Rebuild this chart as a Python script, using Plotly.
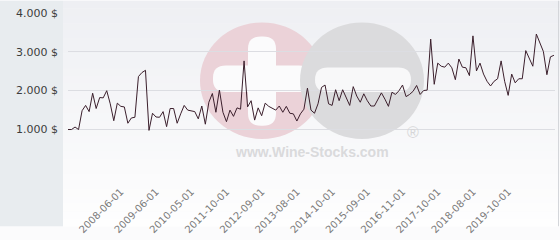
import plotly.graph_objects as go

# ---- data ----
prices = [
    993, 993, 1057, 993, 1479, 1615, 1455, 1930, 1535, 1818,
    1810, 1995, 1656, 1220, 1673, 1591, 1576, 1155, 1292, 1309,
    2359, 2463, 2521, 970, 1413, 1316, 1309, 1455, 1067, 1535,
    1535, 1155, 1397, 1615, 1494, 1470, 1455, 1268, 1600, 1130,
    1697, 1923, 1438, 2012, 1438, 1195, 1494, 1333, 1552, 1518,
    2764, 1576, 1737, 1236, 1552, 1349, 1673, 1591, 1552, 1494,
    1600, 1438, 1591, 1413, 1397, 1212, 1397, 1518, 2061, 1494,
    1413, 1656, 2080, 2141, 1656, 1615, 2020, 1737, 2020, 1818,
    1615, 2100, 1857, 1697, 1915, 1737, 1600, 1600, 1777, 1939,
    1777, 1591, 1955, 1898, 1995, 2141, 1842, 1898, 1979, 2130,
    1898, 2000, 2010, 3327, 2160, 2706, 2626, 2602, 2706, 2586,
    2279, 2812, 2602, 2586, 2384, 3410, 2505, 2706, 2424, 2238,
    2117, 2238, 2303, 2764, 2238, 1874, 2424, 2198, 2303, 2303,
    3030, 2844, 2626, 3457, 3248, 3006, 2408, 2868, 2909,
]
tick_index = [15, 25, 35, 45, 55, 65, 75, 85, 95, 105, 115, 125]
tick_labels = ["2008-06-01", "2009-06-01", "2010-05-01", "2011-10-01",
               "2012-09-01", "2013-08-01", "2014-10-01", "2015-09-01",
               "2016-11-01", "2017-10-01", "2018-08-01", "2019-10-01"]
y_ticks = [0, 1000, 2000, 3000, 4000]
y_tick_labels = ["", "1.000 $", "2.000 $", "3.000 $", "4.000 $"]

# ---- layout geometry (pixels) ----
WIDTH, HEIGHT = 560, 240
ML, MR, MT, MB = 68, 5, 13, 62
PW = WIDTH - ML - MR
PH = HEIGHT - MT - MB
BOTTOM = HEIGHT - MB


def fx(px):
    return (px - ML) / PW


def fy(py):
    return (BOTTOM - py) / PH


def rrect(x0, y0, x1, y1, r):
    # rounded rectangle path in paper coords (pixels in)
    pts = [
        ("M", (x0 + r, y0)), ("L", (x1 - r, y0)), ("Q", (x1, y0), (x1, y0 + r)),
        ("L", (x1, y1 - r)), ("Q", (x1, y1), (x1 - r, y1)), ("L", (x0 + r, y1)),
        ("Q", (x0, y1), (x0, y1 - r)), ("L", (x0, y0 + r)), ("Q", (x0, y0), (x0 + r, y0)),
    ]
    s = ""
    for p in pts:
        cmd = p[0]
        coords = " ".join(f"{fx(a):.5f},{fy(b):.5f}" for a, b in p[1:])
        s += f"{cmd}{coords} "
    return s + "Z"


shapes = []
# background gradient bands
nb = 30
for i in range(nb):
    t = i / (nb - 1)
    c0 = (238, 239, 243)
    c1 = (254, 254, 254)
    col = tuple(round(c0[k] + (c1[k] - c0[k]) * t) for k in range(3))
    y0 = i * HEIGHT / nb
    y1 = (i + 1) * HEIGHT / nb + 0.5
    shapes.append(dict(type="rect", xref="paper", yref="paper", layer="below",
                       x0=fx(63), x1=fx(WIDTH), y0=fy(y0), y1=fy(y1),
                       line=dict(width=0), fillcolor=f"rgb{col}"))
# left panel
shapes.append(dict(type="rect", xref="paper", yref="paper", layer="below",
                   x0=fx(0), x1=fx(63), y0=fy(0), y1=fy(HEIGHT),
                   line=dict(width=0), fillcolor="#e8ecef"))
# right border
shapes.append(dict(type="line", xref="paper", yref="paper", layer="below",
                   x0=fx(558.5), x1=fx(558.5), y0=fy(0), y1=fy(HEIGHT),
                   line=dict(width=1, color="#d4d6da")))

# watermark
pc = (262, 85)
gc = (362, 85)
R = 62
shapes.append(dict(type="circle", xref="paper", yref="paper", layer="below",
                   x0=fx(pc[0] - R), x1=fx(pc[0] + R), y0=fy(pc[1] + R), y1=fy(pc[1] - R),
                   line=dict(width=0), fillcolor="#ebd2d8"))
shapes.append(dict(type="path", xref="paper", yref="paper", layer="below",
                   path=rrect(248, 38, 276, 133, 13), line=dict(width=0), fillcolor="#fbfbfc"))
shapes.append(dict(type="path", xref="paper", yref="paper", layer="below",
                   path=rrect(213, 69, 312, 97, 13), line=dict(width=0), fillcolor="#fbfbfc"))
shapes.append(dict(type="circle", xref="paper", yref="paper", layer="below",
                   x0=fx(gc[0] - R), x1=fx(gc[0] + R), y0=fy(gc[1] + R), y1=fy(gc[1] - R),
                   line=dict(width=0), fillcolor="#dbdbdd"))
shapes.append(dict(type="path", xref="paper", yref="paper", layer="below",
                   path=rrect(315, 71, 411, 97, 13), line=dict(width=0), fillcolor="#f8f8f9"))

annotations = [
    dict(text="<b>www.Wine-Stocks.com</b>", xref="paper", yref="paper",
         x=fx(312), y=fy(161), showarrow=False, xanchor="center", yanchor="middle",
         font=dict(family="Liberation Sans, Arial, sans-serif", size=14, color="#dadadc")),
    dict(text="®", xref="paper", yref="paper",
         x=fx(413), y=fy(140), showarrow=False, xanchor="center", yanchor="middle",
         font=dict(family="Liberation Sans, Arial, sans-serif", size=16, color="#d6d6d8")),
]

fig = go.Figure()
fig.add_trace(go.Scatter(
    x=list(range(len(prices))), y=prices, mode="lines",
    line=dict(color="#3b1f2c", width=1), hoverinfo="skip", showlegend=False,
))

fig.update_layout(
    width=WIDTH, height=HEIGHT,
    margin=dict(l=ML, r=MR, t=MT, b=MB, pad=0),
    paper_bgcolor="#fbfbfc", plot_bgcolor="rgba(0,0,0,0)",
    shapes=shapes, annotations=annotations,
    showlegend=False,
    font=dict(family="DejaVu Sans, Verdana, sans-serif"),
)
fig.update_xaxes(
    range=[0, len(prices) - 0.7], showgrid=False, zeroline=False, showline=False,
    tickmode="array", tickvals=tick_index, ticktext=tick_labels,
    tickangle=-45, tickfont=dict(size=10, color="#7a7a7a"),
    ticks="", ticklabelstandoff=15, fixedrange=True,
)
fig.update_yaxes(
    range=[0, 4000], showgrid=True, gridcolor="#dcdde2", gridwidth=1,
    zeroline=False, showline=False,
    tickmode="array", tickvals=y_ticks, ticktext=y_tick_labels,
    tickfont=dict(size=11, color="#3c3c3c"), ticks="", ticklabelstandoff=9,
    fixedrange=True,
)

fig.write_html("out.html", config={"displayModeBar": False})
